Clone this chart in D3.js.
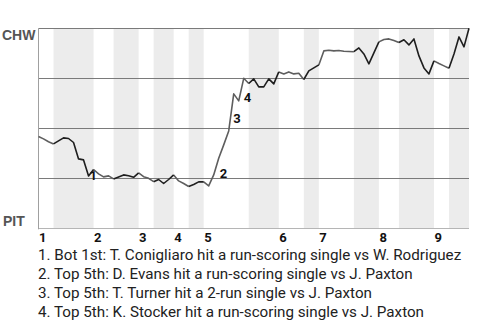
<!DOCTYPE html>
<html>
<head>
<meta charset="utf-8">
<script src="https://cdn.jsdelivr.net/npm/d3@7"></script>
<style>
  body { margin: 0; background: #fff; }
  svg { display: block; }
</style>
</head>
<body>
<div id="chart"></div>
<script>
// win probability for CHW (percent), one value per play
const winProb = [45.9, 44.7, 43.3, 42.2, 43.7, 45.2, 44.9, 42.9, 34.7, 34.2,
  26.2, 29.4, 27.2, 25.7, 26.2, 24.7, 25.7, 26.7, 26.3, 25.5,
  27.7, 25.8, 25.0, 23.3, 24.4, 22.4, 24.4, 26.7, 23.7, 22.4,
  20.9, 21.9, 23.2, 23.2, 21.2, 26.7, 35.0, 41.7, 48.7, 67.2,
  63.7, 75.0, 72.4, 74.7, 70.7, 70.7, 74.7, 72.2, 78.2, 77.2,
  78.2, 77.2, 77.5, 74.4, 78.7, 80.2, 81.7, 88.7, 89.0, 88.7,
  88.9, 88.5, 88.4, 88.3, 90.2, 87.2, 82.2, 87.7, 93.2, 94.4,
  94.7, 93.9, 92.9, 94.3, 91.7, 94.7, 86.2, 80.2, 77.2, 83.7,
  82.4, 81.2, 80.0, 87.2, 95.7, 90.7, 100];

// play index where each half-inning starts (last entry = end of game)
const halfStarts = [0, 3, 11, 15, 20, 23, 27, 30, 33, 42, 48, 53, 56, 63, 68, 72, 79, 82, 86];
const innings = ["1", "2", "3", "4", "5", "6", "7", "8", "9"];
const gridVals = [25, 50, 75, 100];

// key plays: number, play index reached after the event
const keyPlays = [1, 2, 3, 4];
const keyIdx = [10, 35, 39, 41];
const notes = [
  "1. Bot 1st: T. Conigliaro hit a run-scoring single vs W. Rodriguez",
  "2. Top 5th: D. Evans hit a run-scoring single vs J. Paxton",
  "3. Top 5th: T. Turner hit a 2-run single vs J. Paxton",
  "4. Top 5th: K. Stocker hit a run-scoring single vs J. Paxton"
];
const teams = ["CHW", "PIT"];

const W = 480, H = 320;
const plot = { left: 38.5, right: 469, top: 28.3, bottom: 228.3 };

const svg = d3.select("#chart").append("svg")
  .attr("width", W)
  .attr("height", H);

const x = d3.scaleLinear().domain([0, winProb.length - 1]).range([plot.left, plot.right]);
const y = d3.scaleLinear().domain([0, 100]).range([plot.bottom, plot.top]);

// shade bottom halves
const halves = d3.range(halfStarts.length - 1).map(i => ({ s: halfStarts[i], e: halfStarts[i + 1], bottom: i % 2 == 1 }));

svg.append("g")
  .selectAll("rect")
  .data(halves.filter(d => d.bottom))
  .join("rect")
  .attr("x", d => x(d.s))
  .attr("y", y(100))
  .attr("width", d => x(d.e) - x(d.s))
  .attr("height", y(0) - y(100))
  .attr("fill", "#ececec");

// grid lines
svg.append("g")
  .selectAll("line")
  .data(gridVals)
  .join("line")
  .attr("x1", plot.left)
  .attr("x2", plot.right)
  .attr("y1", d => Math.round(y(d)) + 0.5)
  .attr("y2", d => Math.round(y(d)) + 0.5)
  .attr("stroke", "#7a7a7a")
  .attr("stroke-width", 1);

svg.append("line")
  .attr("x1", plot.left).attr("x2", plot.right)
  .attr("y1", Math.round(y(0)) + 0.5).attr("y2", Math.round(y(0)) + 0.5)
  .attr("stroke", "#b5b5b5");

svg.append("line")
  .attr("x1", plot.left).attr("x2", plot.left)
  .attr("y1", y(100)).attr("y2", y(0) + 1)
  .attr("stroke", "#a0a0a0");

// win probability line, one piece per half-inning
const line = d3.line()
  .x(d => x(d[0]))
  .y(d => y(d[1]));

svg.append("g")
  .selectAll("path")
  .data(halves.slice().sort((a, b) => a.bottom - b.bottom))
  .join("path")
  .attr("d", h => line(d3.range(h.s, h.e + 1).map(i => [i, winProb[i]])))
  .attr("fill", "none")
  .attr("stroke", h => h.bottom ? "#1e1e1e" : "#5e5e5e")
  .attr("stroke-width", 1.6)
  .attr("stroke-linejoin", "round");

// key play markers
const labelDx = [1, 6, -0.5, 0];
const labelDy = [4.5, 3.5, 29, 24];
svg.append("g")
  .selectAll("text")
  .data(keyPlays)
  .join("text")
  .attr("x", (d, i) => x(keyIdx[i]) + labelDx[i])
  .attr("y", (d, i) => y(winProb[keyIdx[i]]) + labelDy[i])
  .attr("font-family", "Roboto, sans-serif")
  .attr("font-weight", "bold")
  .attr("font-size", 13)
  .attr("fill", "#111")
  .text(d => d);

// team labels
svg.append("text")
  .attr("x", 2).attr("y", 40)
  .attr("font-family", "'Liberation Sans', Arial, sans-serif")
  .attr("font-weight", "bold")
  .attr("font-size", 14)
  .attr("fill", "#555")
  .text(teams[0]);

svg.append("text")
  .attr("x", 3).attr("y", 225.5)
  .attr("font-family", "'Liberation Sans', Arial, sans-serif")
  .attr("font-weight", "bold")
  .attr("font-size", 14)
  .attr("fill", "#555")
  .text(teams[1]);

// inning labels
svg.append("g")
  .selectAll("text")
  .data(innings)
  .join("text")
  .attr("x", (d, i) => x(halfStarts[i * 2]) + 0.5)
  .attr("y", 242)
  .attr("font-family", "Roboto, sans-serif")
  .attr("font-weight", "bold")
  .attr("font-size", 13)
  .attr("fill", "#111")
  .text(d => d);

// notes
svg.append("g")
  .selectAll("text")
  .data(notes)
  .join("text")
  .attr("x", 38)
  .attr("y", (d, i) => 259.5 + i * 19)
  .attr("font-family", "Roboto, sans-serif")
  .attr("font-size", 15.2)
  .attr("fill", "#222")
  .text(d => d);
</script>
</body>
</html>
